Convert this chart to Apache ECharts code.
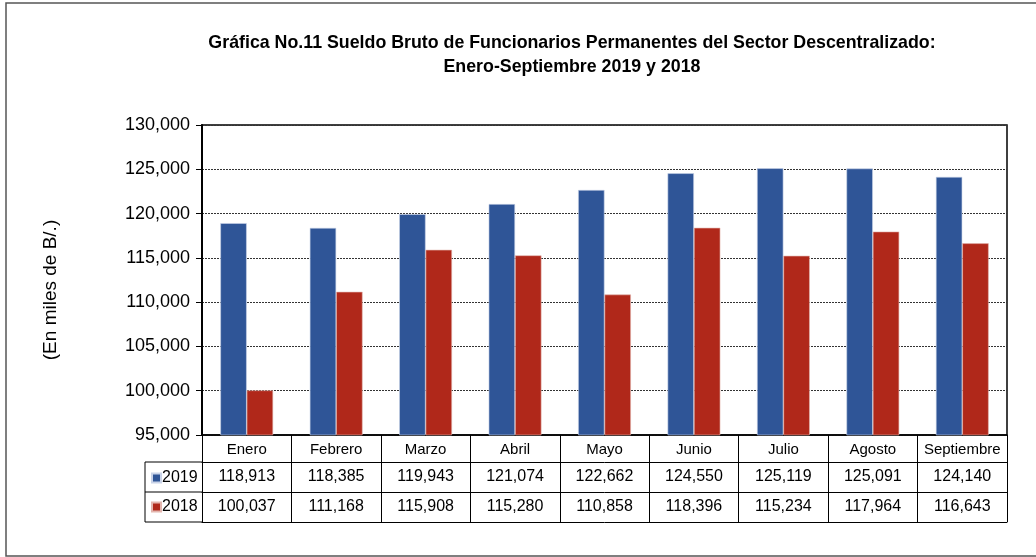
<!DOCTYPE html>
<html><head><meta charset="utf-8">
<script src="https://cdn.jsdelivr.net/npm/echarts@6/dist/echarts.min.js"></script>
<style>html,body{margin:0;padding:0;background:#fff}#c{width:1036px;height:557px}</style>
</head><body><div id="c"></div>
<script>
const categories = ['Enero','Febrero','Marzo','Abril','Mayo','Junio','Julio','Agosto','Septiembre'];
const s2019 = [118913,118385,119943,121074,122662,124550,125119,125091,124140];
const s2018 = [100037,111168,115908,115280,110858,118396,115234,117964,116643];
const seriesNames = ['2019','2018'];
const colors = ['#2F5597','#B0281A'];
const fmt = v => Number(v).toLocaleString('en-US');
const FONT = 'Liberation Sans, Arial, sans-serif';

const chart = echarts.init(document.getElementById('c'));
const gridL = 202, gridR = 1007, gridB = 435;
const tableAxis = (off, vals) => ({
  type:'category', data:categories, position:'bottom', offset:off, gridIndex:0,
  axisLine:{show:true, lineStyle:{color:'#000', width:1}},
  axisTick:{show:false},
  axisLabel:{show:!!vals, interval:0, margin:7, color:'#000', fontSize:16, fontFamily:FONT,
    formatter:(v,i)=> vals ? fmt(vals[i]) : ''},
  splitLine:{show:false}
});
chart.setOption({
  backgroundColor:'#fff',
  animation:false,
  title:{
    text:'Gráfica No.11 Sueldo Bruto de Funcionarios Permanentes del Sector Descentralizado:\nEnero-Septiembre 2019 y 2018',
    left:567, top:26, textAlign:'center',
    textStyle:{fontFamily:'Liberation Sans Narrow, Liberation Sans, Arial', fontWeight:'bold', fontSize:17.8, lineHeight:24, color:'#000'}
  },
  legend:{
    orient:'vertical', left:146, top:465, itemGap:13, itemWidth:9, itemHeight:9,
    icon:'rect', data:seriesNames,
    textStyle:{fontSize:16, fontFamily:FONT, color:'#000', padding:[0,0,0,-4]}
  },
  grid:{left:gridL, right:1036-gridR, top:125, bottom:557-gridB, show:true, borderColor:'#000', borderWidth:1.5},
  xAxis:[
    {type:'category', data:categories, position:'bottom',
      axisLine:{show:true, lineStyle:{color:'#000', width:1.5}},
      axisTick:{show:true, interval:0, length:87, lineStyle:{color:'#000', width:1}},
      axisLabel:{interval:0, margin:7, color:'#000', fontSize:15, fontFamily:FONT},
      splitLine:{show:false}},
    tableAxis(27, s2019),
    tableAxis(57, s2018),
    tableAxis(87, null)
  ],
  yAxis:{
    type:'value', min:95000, max:130000, interval:5000,
    name:'(En miles de B/.)', nameLocation:'middle', nameGap:142, nameRotate:90,
    nameTextStyle:{fontSize:19, fontFamily:FONT, color:'#000', padding:[0,20,0,0]},
    axisLine:{show:true, lineStyle:{color:'#000', width:2}},
    axisTick:{show:true, inside:false, length:6, lineStyle:{color:'#000'}},
    axisLabel:{color:'#000', fontSize:18, fontFamily:FONT, margin:12, formatter:v=>fmt(v)},
    splitLine:{show:true, lineStyle:{color:'#333', type:[2,1], width:1}}
  },
  series:[
    {name:seriesNames[0], type:'bar', data:s2019, barGap:'0%', barCategoryGap:'41%', xAxisIndex:0,
      itemStyle:{color:colors[0], borderColor:'#C9D3E8', borderWidth:0.6}},
    {name:seriesNames[1], type:'bar', data:s2018, xAxisIndex:0,
      itemStyle:{color:colors[1], borderColor:'#E3B5AE', borderWidth:0.6}}
  ],
  graphic:[
    {type:'rect', shape:{x:6, y:3, width:1100, height:553}, style:{fill:null, stroke:'#555', lineWidth:1.5}, silent:true},
    {type:'polyline', shape:{points:[[gridL,462],[145,462],[145,522],[gridL,522]]}, style:{fill:null, stroke:'#000', lineWidth:1}, silent:true},
    {type:'line', shape:{x1:145, y1:492, x2:gridL, y2:492}, style:{stroke:'#000', lineWidth:1}, silent:true}
  ]
});
</script></body></html>
